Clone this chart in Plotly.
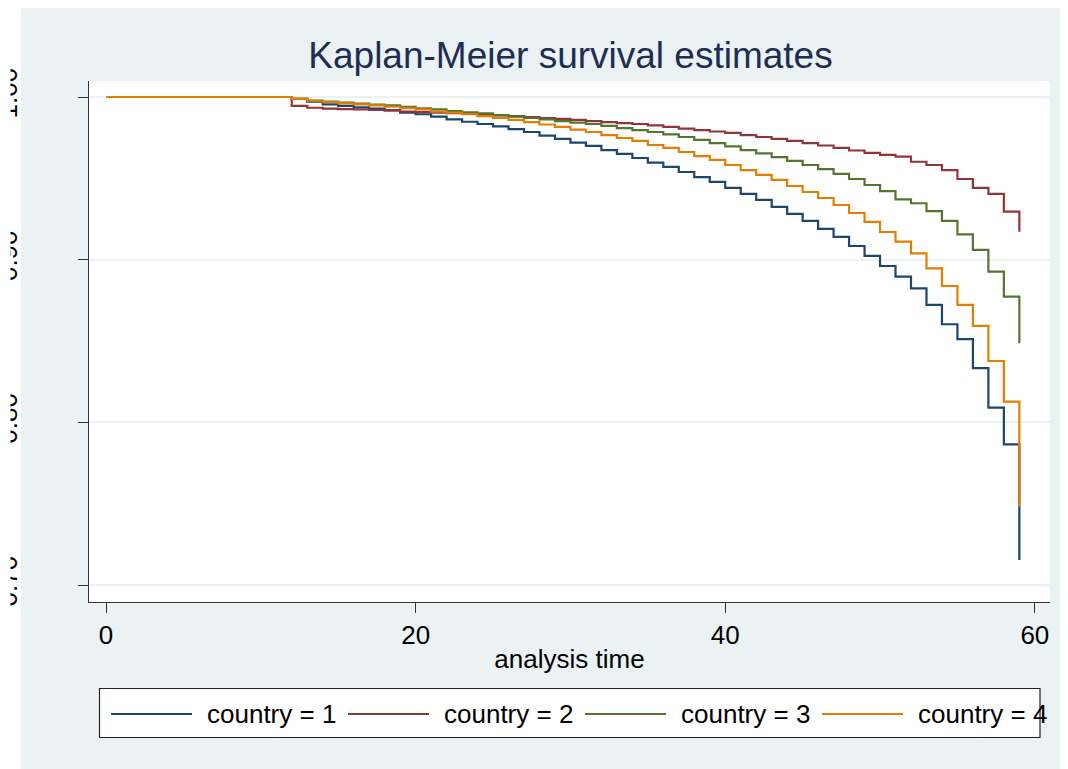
import plotly.graph_objects as go

# ---------------- data ----------------
times = [0, 12, 13, 14, 15, 16, 17, 18, 19, 20, 21, 22, 23, 24, 25, 26, 27, 28, 29, 30,
         31, 32, 33, 34, 35, 36, 37, 38, 39, 40, 41, 42, 43, 44, 45, 46, 47, 48, 49, 50,
         51, 52, 53, 54, 55, 56, 57, 58, 59]

country1 = [1.0,
            0.9988, 0.9971, 0.9955, 0.9945, 0.9937, 0.9928, 0.9920, 0.9904, 0.9894, 0.9879,
            0.9863, 0.9848, 0.9834, 0.9819, 0.9803, 0.9785, 0.9763, 0.9742, 0.9720, 0.9699,
            0.9674, 0.9650, 0.9625, 0.9597, 0.9570, 0.9539, 0.9508, 0.9478, 0.9441, 0.9404,
            0.9367, 0.9324, 0.9281, 0.9238, 0.9189, 0.9140, 0.9084, 0.9023, 0.8961, 0.8896,
            0.8824, 0.8722, 0.8603, 0.8511, 0.8333, 0.8090, 0.7865, 0.7154]
country2 = [1.0,
            0.9945, 0.9934, 0.9929, 0.9926, 0.9924, 0.9920, 0.9916, 0.9910, 0.9907, 0.9904,
            0.9900, 0.9896, 0.9891, 0.9887, 0.9883, 0.9877, 0.9871, 0.9865, 0.9859, 0.9852,
            0.9846, 0.9840, 0.9834, 0.9825, 0.9816, 0.9806, 0.9797, 0.9788, 0.9779, 0.9766,
            0.9754, 0.9742, 0.9730, 0.9717, 0.9702, 0.9687, 0.9671, 0.9656, 0.9644, 0.9633,
            0.9602, 0.9582, 0.9551, 0.9496, 0.9441, 0.9404, 0.9295, 0.9172]
country3 = [1.0,
            0.9988, 0.9978, 0.9972, 0.9966, 0.9960, 0.9954, 0.9948, 0.9940, 0.9931, 0.9924,
            0.9914, 0.9906, 0.9899, 0.9889, 0.9880, 0.9871, 0.9862, 0.9852, 0.9843, 0.9834,
            0.9822, 0.9809, 0.9797, 0.9785, 0.9770, 0.9754, 0.9736, 0.9717, 0.9696, 0.9674,
            0.9653, 0.9631, 0.9607, 0.9582, 0.9557, 0.9527, 0.9496, 0.9459, 0.9422, 0.9371,
            0.9347, 0.9299, 0.9238, 0.9156, 0.9060, 0.8926, 0.8773, 0.8486]
country4 = [1.0,
            0.9988, 0.9977, 0.9969, 0.9961, 0.9955, 0.9949, 0.9940, 0.9931, 0.9924, 0.9910,
            0.9904, 0.9894, 0.9883, 0.9871, 0.9859, 0.9846, 0.9831, 0.9816, 0.9800, 0.9785,
            0.9766, 0.9748, 0.9730, 0.9705, 0.9687, 0.9662, 0.9637, 0.9613, 0.9582, 0.9551,
            0.9521, 0.9490, 0.9453, 0.9416, 0.9379, 0.9336, 0.9287, 0.9232, 0.9170, 0.9111,
            0.9039, 0.8947, 0.8838, 0.8722, 0.8593, 0.8377, 0.8127, 0.7482]

series_names = ["country = 1", "country = 2", "country = 3", "country = 4"]
series_values = [country1, country2, country3, country4]
colors = ["#1A476F", "#90353B", "#55752F", "#E37E00"]

x_ticks = [0, 20, 40, 60]
y_ticks = [1.0, 0.9, 0.8, 0.7]
y_ticklabels = ["1.00", "0.90", "0.80", "0.70"]

# ---------------- layout geometry ----------------
OFF = 8                      # page offset of the figure (body margin)
W, H = 1068 - OFF, 769 - OFF
L, R, T, B = 81, 18, 73, 167
PW, PH = W - L - R, H - T - B
BG = "#EAF2F3"
FONT = "Liberation Sans, Arial, sans-serif"


def fx(px):
    """page pixel x -> paper fraction"""
    return (px - OFF - L) / PW


def fy(py):
    """page pixel y -> paper fraction"""
    return (H - B - (py - OFF)) / PH


fig = go.Figure()
for name, vals, col in zip(series_names, series_values, colors):
    fig.add_trace(go.Scatter(x=times, y=vals, mode="lines", name=name,
                             line=dict(shape="hv", width=2.2, color=col),
                             showlegend=False))

shapes = []
# white strip at the left edge (outside the graph region)
shapes.append(dict(type="rect", xref="paper", yref="paper", layer="below",
                   x0=fx(0), x1=fx(21), y0=fy(790), y1=fy(-20),
                   fillcolor="white", line=dict(width=0)))
# clip of the rotated y tick labels (as in the reference export)
shapes.append(dict(type="rect", xref="paper", yref="paper", layer="above",
                   x0=fx(0), x1=fx(10.5), y0=fy(790), y1=fy(-20),
                   fillcolor="white", line=dict(width=0)))
# legend box
shapes.append(dict(type="rect", xref="paper", yref="paper", layer="above",
                   x0=fx(99.5), x1=fx(1040), y0=fy(737.5), y1=fy(688.5),
                   fillcolor="white", line=dict(color="#222222", width=1.2)))
annotations = []
step = 237
for i, (name, col) in enumerate(zip(series_names, colors)):
    x0 = 111 + i * step
    shapes.append(dict(type="line", xref="paper", yref="paper", layer="above",
                       x0=fx(x0), x1=fx(x0 + 81), y0=fy(714), y1=fy(714),
                       line=dict(color=col, width=2.2)))
    annotations.append(dict(text=name, xref="paper", yref="paper",
                            x=fx(x0 + 94), y=fy(714), xanchor="left", yanchor="middle",
                            showarrow=False,
                            font=dict(family=FONT, size=26, color="black")))

fig.update_layout(
    width=W, height=H,
    margin=dict(l=L, r=R, t=T, b=B, pad=0, autoexpand=False),
    paper_bgcolor=BG, plot_bgcolor="white",
    font=dict(family=FONT, color="black"),
    title=dict(text="Kaplan-Meier survival estimates",
               x=(570.5 - OFF) / W, xanchor="center", y=1 - (55 - OFF) / H, yanchor="middle",
               font=dict(family=FONT, size=37, color="#1E2D53")),
    shapes=shapes, annotations=annotations,
    showlegend=False,
)
fig.update_xaxes(range=[-1.1, 60.98], tickvals=x_ticks, ticks="outside", ticklen=10,
                 tickwidth=1.3, tickcolor="#333333", showline=True, linecolor="#333333",
                 linewidth=1.3, showgrid=False, zeroline=False, automargin=False,
                 tickfont=dict(family=FONT, size=26, color="black"),
                 title=dict(text="analysis time", standoff=0,
                            font=dict(family=FONT, size=26, color="black")))
fig.update_yaxes(range=[0.68955, 1.00984], tickvals=y_ticks, ticktext=y_ticklabels,
                 tickangle=-90, ticks="outside", ticklen=10, tickwidth=1.3,
                 tickcolor="#333333", showline=True, linecolor="#333333", linewidth=1.3,
                 showgrid=True, gridcolor=BG, gridwidth=2, zeroline=False,
                 automargin=False, ticklabelstandoff=50,
                 tickfont=dict(family=FONT, size=26, color="black"))

fig.write_html("out.html")
